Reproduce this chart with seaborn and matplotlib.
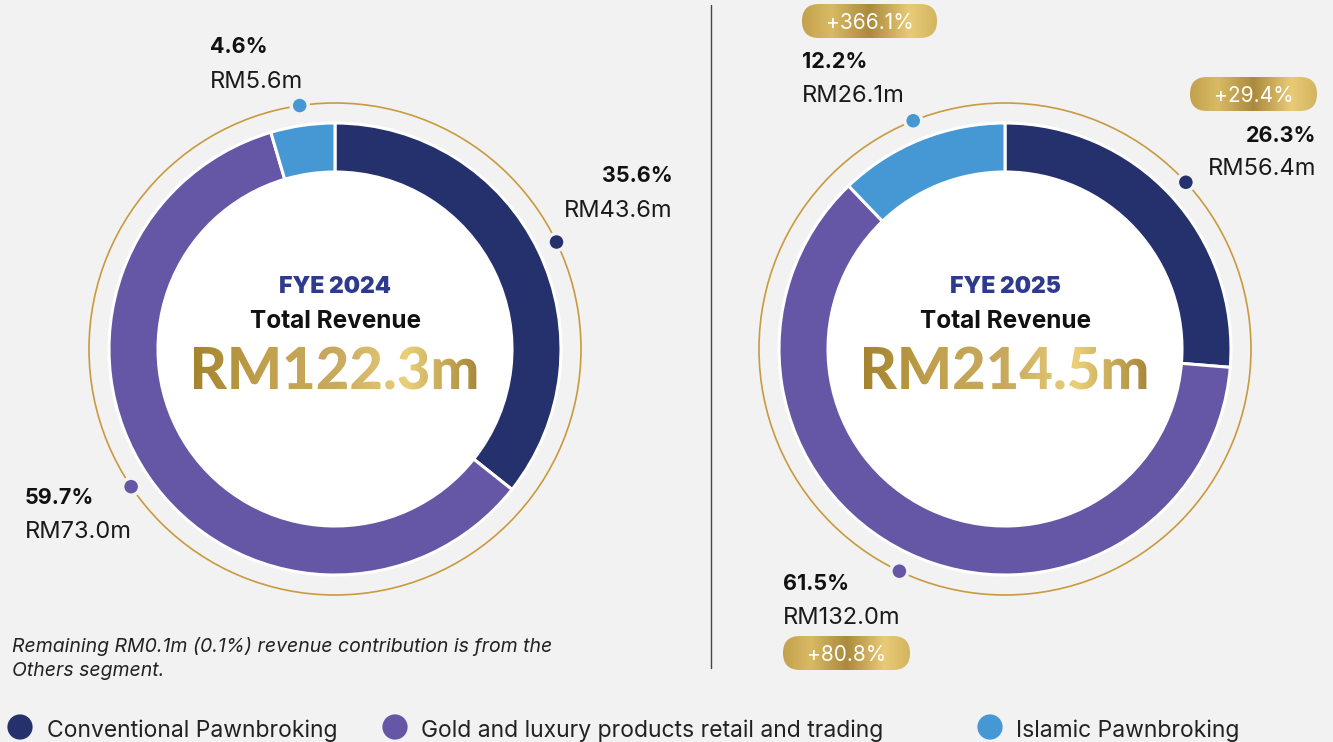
import numpy as np
import pandas as pd
import matplotlib
matplotlib.use("Agg")
import matplotlib.pyplot as plt
import seaborn as sns
from matplotlib.patches import Circle, FancyBboxPatch, PathPatch
from matplotlib.textpath import TextPath
from matplotlib.font_manager import FontProperties
from matplotlib.colors import LinearSegmentedColormap
from matplotlib.transforms import Affine2D

# data
segments = ["Conventional Pawnbroking",
            "Gold and luxury products retail and trading",
            "Islamic Pawnbroking"]
seg_colors = ["#25316d", "#6556a6", "#4698d4"]

years = ["FYE 2024", "FYE 2025"]
totals = ["RM122.3m", "RM214.5m"]
rev_2024 = [43.6, 73.0, 5.6]
rev_2025 = [56.4, 132.0, 26.1]
pct_2024 = ["35.6%", "59.7%", "4.6%"]
pct_2025 = ["26.3%", "61.5%", "12.2%"]
growth_2025 = ["+29.4%", "+80.8%", "+366.1%"]
note = "Remaining RM0.1m (0.1%) revenue contribution is from the\nOthers segment."

W, H = 1333, 742
BG = "#f2f2f2"
FONT = "Inter"

sns.set_theme(style="white", rc={"figure.facecolor": BG, "axes.facecolor": BG})
plt.rcParams["font.family"] = [FONT, "Lato", "DejaVu Sans"]

gold_big = LinearSegmentedColormap.from_list(
    "gold_big", [(0, "#a4842f"), (0.25, "#c2a14e"), (0.5, "#c8a95e"),
                 (0.75, "#ebcf79"), (1, "#a8893d")])
gold_badge = LinearSegmentedColormap.from_list(
    "gold_badge", [(0, "#c3a14d"), (0.22, "#d8ba65"), (0.5, "#ab8a3d"),
                   (0.8, "#e9cb77"), (1, "#d3b45f")])

fig = plt.figure(figsize=(W / 100, H / 100), dpi=100)
ax = fig.add_axes([0, 0, 1, 1])


def Y(y):
    # image row -> data y
    return H - y


def gradient_fill(clip, x0, x1, y0, y1, cmap, z):
    grad = np.linspace(0, 1, 256)[None, :]
    im = ax.imshow(grad, cmap=cmap, extent=[x0, x1, y0, y1], aspect="auto",
                   interpolation="bicubic", zorder=z)
    im.set_clip_path(clip)


def gold_text(x, y, s, size_px):
    fp = FontProperties(family="Lato", weight="black")
    tp = TextPath((0, 0), s, size=size_px, prop=fp)
    bb = tp.get_extents()
    path = Affine2D().translate(x - (bb.x0 + bb.x1) / 2,
                                Y(y) - (bb.y0 + bb.y1) / 2).transform_path(tp)
    patch = PathPatch(path, fc="none", ec="none")
    ax.add_patch(patch)
    b = path.get_extents()
    gradient_fill(patch, b.x0, b.x1, b.y0, b.y1, gold_big, 6)


def badge(x0, y0, x1, y1, s):
    h = y1 - y0
    p = FancyBboxPatch((x0, Y(y1)), x1 - x0, h,
                       boxstyle=f"round,pad=0,rounding_size={h / 2}",
                       fc="none", ec="none")
    ax.add_patch(p)
    gradient_fill(p, x0, x1, Y(y1), Y(y0), gold_badge, 5)
    ax.text((x0 + x1) / 2, Y((y0 + y1) / 2), s, ha="center", va="center_baseline",
            color="white", fontsize=15, zorder=7)


def donut(cx, cy, values, year, total):
    ax.add_patch(Circle((cx, Y(cy)), 246, fill=False, ec="#c99a3e", lw=1.2, zorder=1))
    ax.add_patch(Circle((cx, Y(cy)), 178, fc="white", ec="none", zorder=1))
    ax.pie(values, colors=seg_colors, startangle=90, counterclock=False,
           center=(cx, Y(cy)), radius=226,
           wedgeprops=dict(width=49, edgecolor="white", linewidth=2.2, zorder=2))
    v = np.array(values)
    mid = (np.cumsum(v) - v / 2) / v.sum() * 2 * np.pi
    dots = pd.DataFrame({"x": cx + 246 * np.sin(mid),
                         "y": Y(cy) + 246 * np.cos(mid),
                         "segment": segments})
    sns.scatterplot(data=dots, x="x", y="y", hue="segment",
                    palette=dict(zip(segments, seg_colors)), s=150,
                    edgecolor=BG, linewidth=2.5, legend=False, zorder=4, ax=ax)
    ax.text(cx, Y(293), year, ha="center", va="baseline", fontsize=16.5,
            fontweight="black", color="#2e3a8e", zorder=6)
    ax.text(cx, Y(328), "Total Revenue", ha="center", va="baseline", fontsize=17.5,
            fontweight="bold", color="#111111", zorder=6)
    gold_text(cx, 368, total, 58)


donut(335, 349, rev_2024, years[0], totals[0])
donut(1005, 349, rev_2025, years[1], totals[1])


def seg_label(x, y_pct, y_val, pct, val, ha):
    ax.text(x, Y(y_pct), pct, ha=ha, va="baseline", fontsize=15.5,
            fontweight="bold", color="#111111")
    ax.text(x, Y(y_val), val, ha=ha, va="baseline", fontsize=17, color="#1a1a1a")


# FYE 2024 labels
seg_label(673, 182, 217, pct_2024[0], f"RM{rev_2024[0]:.1f}m", "right")
seg_label(25, 504, 538, pct_2024[1], f"RM{rev_2024[1]:.1f}m", "left")
seg_label(210, 53, 88, pct_2024[2], f"RM{rev_2024[2]:.1f}m", "left")

# FYE 2025 labels
seg_label(1316, 142, 175, pct_2025[0], f"RM{rev_2025[0]:.1f}m", "right")
seg_label(783, 590, 624, pct_2025[1], f"RM{rev_2025[1]:.1f}m", "left")
seg_label(802, 68, 102, pct_2025[2], f"RM{rev_2025[2]:.1f}m", "left")
badge(1190, 77, 1317, 111, growth_2025[0])
badge(783, 636, 910, 670, growth_2025[1])
badge(802, 4, 937, 38, growth_2025[2])

# divider
ax.plot([711, 711], [Y(5), Y(668)], color="#444444", lw=1)

# footnote
ax.text(12, Y(652), note.split("\n")[0], ha="left", va="baseline", fontsize=14,
        style="italic", color="#222222")
ax.text(12, Y(676), note.split("\n")[1], ha="left", va="baseline", fontsize=14,
        style="italic", color="#222222")

# legend
leg = pd.DataFrame({"x": [20, 395, 990], "y": [Y(727)] * 3, "segment": segments})
sns.scatterplot(data=leg, x="x", y="y", hue="segment",
                palette=dict(zip(segments, seg_colors)), s=330,
                edgecolor="none", legend=False, ax=ax)
for xt, name in zip([47, 421, 1016], segments):
    ax.text(xt, Y(737), name, ha="left", va="baseline", fontsize=16.5,
            color="#222222")

ax.set_xlim(0, W)
ax.set_ylim(0, H)
ax.set_aspect("auto")
ax.axis("off")
fig.savefig("out.png", dpi=100, facecolor=BG)
